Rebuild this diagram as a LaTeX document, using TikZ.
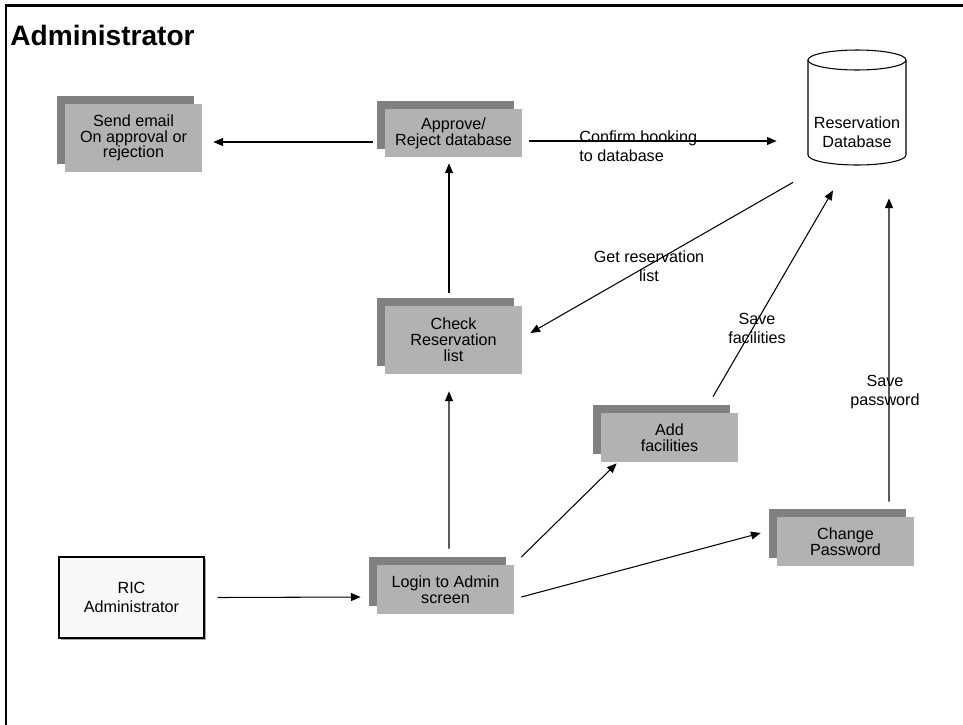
\documentclass[tikz,border=0pt]{standalone}
\usepackage{fontspec}
\setmainfont{Liberation Sans}
\usepackage{xcolor}
\definecolor{ADMfront}{HTML}{B2B2B2}
\definecolor{ADMshade}{HTML}{808080}
\definecolor{ADMuser}{HTML}{F8F8F8}
\usetikzlibrary{arrows.meta,shadows}

\begin{document}
\begin{tikzpicture}[x=0.02cm, y=-0.02cm,
      proc/.style={fill=ADMfront, minimum width=2.74cm, inner sep=0pt, align=center,
                   font=\fontsize{9.2}{9}\selectfont,
                   drop shadow={shadow xshift=-0.16cm, shadow yshift=0.16cm, fill=ADMshade, opacity=1}},
      user/.style={draw, fill=ADMuser, line width=0.6pt, minimum width=2.9cm, minimum height=1.62cm,
                   inner sep=0pt, align=center, font=\fontsize{9.2}{10.5}\selectfont,
                   drop shadow={shadow xshift=0.04cm, shadow yshift=-0.04cm, fill=black!35, opacity=1}},
      lbl/.style={inner sep=0pt, align=center, font=\fontsize{9.2}{10.8}\selectfont},
      arr/.style={-{Triangle[length=5.5pt,width=4.5pt]}, line width=0.6pt}]
  \useasboundingbox (0,0) rectangle (963,724);
  % frame and title
  \draw[line width=1.2pt] (990,5.5) -- (6,5.5) -- (6,750);
  \node[anchor=base west, inner sep=0pt, font=\fontsize{16}{18}\bfseries\selectfont] (title) at (10,45) {Administrator};

  % processes
  \node[proc, minimum height=1.36cm] (email) at (133.5,138) {Send email\\On approval or\\rejection};
  \node[proc, minimum height=0.96cm] (approve) at (453.5,133) {Approve/\\Reject database};
  \node[proc, minimum height=1.36cm] (check) at (453.5,340) {Check\\Reservation\\list};
  \node[proc, minimum height=0.98cm] (addfac) at (669.5,437.5) {Add\\facilities};
  \node[proc, minimum height=0.98cm] (login) at (445.5,589.5) {Login to Admin\\screen};
  \node[proc, minimum height=0.98cm] (chpw) at (845.5,541.5) {Change\\Password};
  \node[user] (ric) at (131.5,597.5) {RIC\\Administrator};

  % database
  \draw[line width=0.6pt, fill=white] (808,60) -- (808,155)
        arc[start angle=180, end angle=360, x radius=0.98cm, y radius=0.2cm] -- (906,60)
        arc[start angle=0, end angle=180, x radius=0.98cm, y radius=0.2cm] -- cycle;
  \draw[line width=0.6pt] (808,60) arc[start angle=180, end angle=360, x radius=0.98cm, y radius=0.2cm];
  \node[minimum width=1.96cm, minimum height=1.32cm, inner sep=0pt, align=center,
        font=\fontsize{9.2}{10.5}\selectfont] (db) at (857,132) {Reservation\\Database};

  % flows
  \draw[arr] ([shift={(13,0)}]ric.east) -- ([shift={(-16,7.5)}]login.west);
  \draw[arr] ([shift={(3.5,-16)}]login.north) -- ([shift={(-4.5,17)}]check.south);
  \draw[arr] ([shift={(-4.5,-13)}]check.north) -- ([shift={(-4.5,6)}]approve.south);
  \draw[arr] ([shift={(-12,9)}]approve.west) -- ([shift={(11,4)}]email.east);
  \draw[arr] ([shift={(7,8)}]approve.east) -- ([shift={(-31,9)}]db.west);
  \draw[arr] ([shift={(-64,17)}]db.south) -- ([shift={(8,-7)}]check.east);
  \draw[arr] ([shift={(43.5,-16)}]addfac.north) -- ([shift={(-24,25)}]db.south);
  \draw[arr] ([shift={(43.5,-15)}]chpw.north) -- ([shift={(32,33)}]db.south);
  \draw[arr] ([shift={(7,-32.5)}]login.east) -- ([shift={(16,1)}]addfac.south west);
  \draw[arr] ([shift={(7,7.5)}]login.east) -- ([shift={(-16,-8.5)}]chpw.west);

  % flow labels
  \node[lbl, anchor=west, align=left] (confirm) at (579,146) {Confirm booking\\to database};
  \node[lbl] (getres) at (649,266) {Get reservation\\list};
  \node[lbl] (savefac) at (757,328) {Save\\facilities};
  \node[lbl] (savepw) at (885,392) {Save\\password};
\end{tikzpicture}
\end{document}
